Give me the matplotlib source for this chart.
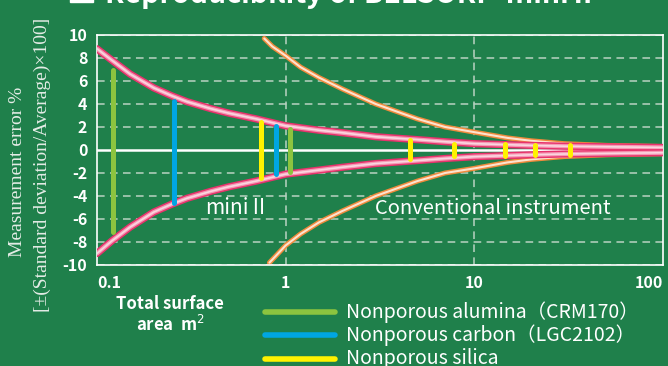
import numpy as np
import matplotlib.pyplot as plt
from matplotlib.patches import Rectangle

plt.rcParams['font.family'] = ['Noto Sans CJK JP', 'DejaVu Sans']

# curvas de erro (miniII e instrumento convencional)
mini_x = [0.1, 0.12, 0.15, 0.2, 0.25, 0.3, 0.4, 0.5, 0.7, 1, 1.5, 2, 3, 5, 7, 10, 20, 30, 50, 100]
mini_up = [8.8, 7.8, 6.6, 5.4, 4.7, 4.2, 3.6, 3.2, 2.7, 2.1, 1.72, 1.5, 1.15, 0.9, 0.72, 0.55, 0.4, 0.33, 0.28, 0.22]
mini_lo = [-9.0, -7.9, -6.7, -5.4, -4.7, -4.2, -3.6, -3.2, -2.7, -2.1, -1.75, -1.5, -1.18, -0.92, -0.74, -0.58, -0.42, -0.35, -0.3, -0.24]

conv_x_up = [0.77, 0.85, 1, 1.2, 1.5, 2, 3, 5, 7, 10, 15, 20, 30, 50, 100]
conv_up = [9.7, 9.0, 8.2, 7.2, 6.3, 5.3, 4.0, 2.7, 2.0, 1.55, 1.05, 0.8, 0.55, 0.4, 0.3]
conv_x_lo = [0.82, 0.9, 1, 1.2, 1.5, 2, 3, 5, 7, 10, 15, 20, 30, 50, 100]
conv_lo = [-9.8, -9.1, -8.3, -7.3, -6.3, -5.3, -4.0, -2.7, -2.0, -1.6, -1.08, -0.82, -0.57, -0.42, -0.32]

# barras de reprodutibilidade das amostras
alumina_x = [0.122, 1.06]
alumina_lo = [-7.1, -1.9]
alumina_hi = [6.95, 1.85]
carbon_x = [0.256, 0.885]
carbon_lo = [-4.6, -2.1]
carbon_hi = [4.25, 2.1]
silica_x = [0.738, 4.58, 7.77, 14.6, 20.9, 32.2]
silica_lo = [-2.4, -0.8, -0.55, -0.5, -0.45, -0.45]
silica_hi = [2.45, 0.83, 0.55, 0.5, 0.45, 0.45]

x_ticks = [0.1, 1, 10, 100]
x_labels = ['0.1', '1', '10', '100']
y_ticks = list(range(-10, 11, 2))
y_labels = [str(v) for v in y_ticks]

legend_names = ['Nonporous alumina（CRM170）', 'Nonporous carbon（LGC2102）', 'Nonporous silica']

bg = '#1f804b'
green = '#8cc43f'
blue = '#00a6e2'
yellow = '#fff200'

fig = plt.figure(figsize=(6.68, 3.66), dpi=100, facecolor=bg)
ax = fig.add_axes([0.1452, 0.276, 0.8473, 0.6284], facecolor=bg)
ax.set_xscale('log')
ax.set_xlim(0.1, 100)
ax.set_ylim(-10, 10)

# grade tracejada
for v in y_ticks:
    if v != 0:
        ax.axhline(v, color='#b9d3c2', lw=1.1, ls=(0, (5, 3.5)), zorder=1)
for v in [1, 10]:
    ax.axvline(v, color='#b9d3c2', lw=1.1, ls=(0, (5, 3.5)), zorder=1)
ax.axhline(0, color='white', lw=1.8, zorder=1)

# tubo rosa (miniII)
for yy in [mini_up, mini_lo]:
    ax.plot(mini_x, yy, color='#e8336d', lw=5.2, solid_capstyle='round', zorder=3)
    ax.plot(mini_x, yy, color='#f59ab4', lw=3.0, solid_capstyle='round', zorder=3)
    ax.plot(mini_x, yy, color='#fbd5e0', lw=1.2, solid_capstyle='round', zorder=3)

# tubo laranja (convencional)
for xx, yy in [(conv_x_up, conv_up), (conv_x_lo, conv_lo)]:
    ax.plot(xx, yy, color='#f08a3c', lw=3.6, solid_capstyle='round', zorder=2)
    ax.plot(xx, yy, color='#fde3cf', lw=1.5, solid_capstyle='round', zorder=2)

ax.vlines(alumina_x, alumina_lo, alumina_hi, color=green, lw=3.6, capstyle='round', zorder=4)
ax.vlines(carbon_x, carbon_lo, carbon_hi, color=blue, lw=3.6, capstyle='round', zorder=4)
ax.vlines(silica_x, silica_lo, silica_hi, color=yellow, lw=3.6, capstyle='round', zorder=4)

ax.text(0.373, -5.05, 'miniⅡ', color='white', fontsize=15, va='center', ha='left', zorder=5)
ax.text(2.96, -5.05, 'Conventional instrument', color='white', fontsize=14.5, va='center', ha='left', zorder=5)

for s in ax.spines.values():
    s.set_color('white')
    s.set_linewidth(1.2)

ax.set_xticks(x_ticks)
ax.set_xticklabels(x_labels)
ax.xaxis.set_minor_locator(plt.NullLocator())
ax.set_yticks(y_ticks)
ax.set_yticklabels(y_labels)
ax.tick_params(length=0, colors='white', labelsize=11.5, pad=7)
for lab in ax.get_xticklabels() + ax.get_yticklabels():
    lab.set_fontweight('bold')
xl = ax.get_xticklabels()
xl[0].set_ha('left')
xl[-1].set_ha('right')

# rótulos dos eixos
fig.text(18 / 668, 1 - 171.5 / 366, 'Measurement error %', rotation=90, color='#e4ece6',
         family='Liberation Serif', fontsize=14, ha='center', va='center')
fig.text(42 / 668, 1 - 165 / 366, '[±(Standard deviation/Average)×100]', rotation=90,
         color='#e4ece6', family='Liberation Serif', fontsize=14, ha='center', va='center')
fig.text(170 / 668, 1 - 315 / 366, 'Total surface\narea  m$^2$', color='white', fontsize=12,
         fontweight='bold', ha='center', va='center', linespacing=1.15)

# legenda
for i, (name, c) in enumerate(zip(legend_names, [green, blue, yellow])):
    yf = 1 - (312 + 23.3 * i) / 366
    fig.add_artist(plt.Line2D([265 / 668, 335 / 668], [yf, yf], color=c, lw=4, solid_capstyle='round'))
    fig.text(346 / 668, yf, name, color='white', fontsize=14, ha='left', va='center')

# título (cortado no topo)
fig.add_artist(Rectangle((70 / 668, 1 - 2 / 366), 23 / 668, 20 / 366, color='white'))
fig.text(105 / 668, 1 - 3 / 366, 'Reproducibility of BELSORP-miniⅡ', color='white', fontsize=20.5,
         fontweight='bold', ha='left', va='baseline')

fig.savefig('out.png', dpi=100, facecolor=bg)
